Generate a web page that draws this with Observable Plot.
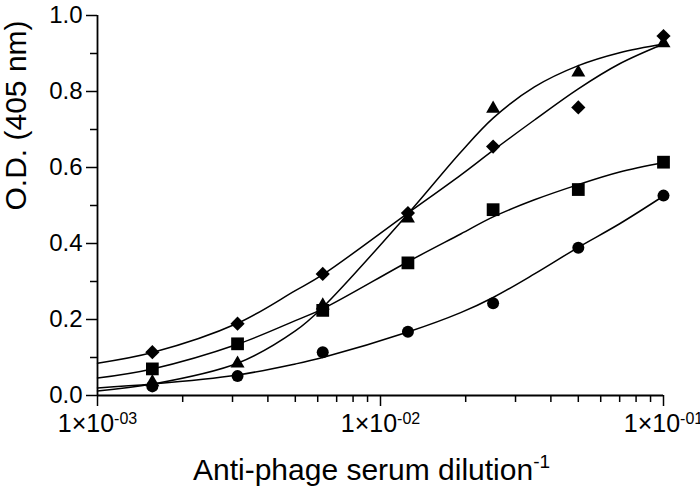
<!DOCTYPE html>
<html>
<head>
<meta charset="utf-8">
<script src="https://cdn.jsdelivr.net/npm/d3@7"></script>
<script src="https://cdn.jsdelivr.net/npm/@observablehq/plot@0.6"></script>
<style>
  html, body { margin: 0; padding: 0; background: #fff; }
  #chart svg { display: block; }
</style>
</head>
<body>
<div id="chart"></div>
<script>
// ---- data ----
const dilution = [1/640, 1/320, 1/160, 1/80, 1/40, 1/20, 1/10];
const diamondOD  = [0.114, 0.189, 0.320, 0.480, 0.655, 0.758, 0.946];
const triangleOD = [0.035, 0.084, 0.237, 0.466, 0.755, 0.850, 0.927];
const squareOD   = [0.070, 0.136, 0.224, 0.349, 0.489, 0.542, 0.614];
const circleOD   = [0.024, 0.051, 0.114, 0.168, 0.243, 0.389, 0.526];

// fitted curves
const curveX        = [0.001, 0.0015625, 0.003125, 0.005, 0.00625, 0.0125, 0.0192, 0.025, 0.035, 0.05, 0.07, 0.1];
const diamondFit    = [0.085, 0.113, 0.190, 0.276, 0.318, 0.480, 0.580, 0.645, 0.725, 0.807, 0.873, 0.925];
const triangleFit   = [0.012, 0.030, 0.085, 0.170, 0.232, 0.478, 0.640, 0.730, 0.812, 0.868, 0.902, 0.925];
const squareFit     = [0.046, 0.070, 0.135, 0.197, 0.228, 0.352, 0.425, 0.470, 0.515, 0.555, 0.588, 0.613];
const circleFit     = [0.020, 0.030, 0.054, 0.083, 0.100, 0.167, 0.218, 0.258, 0.320, 0.390, 0.452, 0.525];

// axis ticks and labels
const xMajorTicks = [0.001, 0.01, 0.1];
const xTickExponents = ["-03", "-02", "-01"];
const xMinorTicks = [0.002,0.003,0.004,0.005,0.006,0.007,0.008,0.009,0.02,0.03,0.04,0.05,0.06,0.07,0.08,0.09];
const yMajorTicks = [0, 0.2, 0.4, 0.6, 0.8, 1.0];
const yMinorTicks = [0.1, 0.3, 0.5, 0.7, 0.9];
const xTitle = "Anti-phage serum dilution";
const xTitleSup = "-1";
const yTitle = "O.D. (405 nm)";

// ---- build tables ----
const pts = (ys) => dilution.map((x, i) => ({x, y: ys[i]}));
const fit = (ys) => curveX.map((x, i) => ({x, y: ys[i]}));
const series = [
  {sym: "diamond2", r: 6.4, p: pts(diamondOD),  f: fit(diamondFit)},
  {sym: "triangle", r: 5.2, p: pts(triangleOD), f: fit(triangleFit)},
  {sym: "square",   r: 7.2, p: pts(squareOD),   f: fit(squareFit)},
  {sym: "circle",   r: 6.0, p: pts(circleOD),   f: fit(circleFit)}
];

const supFormat = (d) => {
  const i = xMajorTicks.findIndex(t => Math.abs(Math.log10(t) - Math.log10(d)) < 1e-6);
  return i >= 0 ? `1×10^${xTickExponents[i]}` : "";
};

const chart = Plot.plot({
  width: 700,
  height: 488,
  marginLeft: 97,
  marginRight: 37,
  marginTop: 15,
  marginBottom: 93,
  style: {fontFamily: "'Liberation Sans', Arial, sans-serif", color: "black", background: "white"},
  x: {type: "log", domain: [0.001, 0.1]},
  y: {domain: [0, 1]},
  marks: [
    Plot.axisY({ticks: yMajorTicks, tickSize: 11, tickPadding: 4, fontSize: 24, strokeWidth: 1.5, tickFormat: d3.format(".1f"), label: null}),
    Plot.axisY({ticks: yMinorTicks, tickSize: 7, strokeWidth: 1.5, tickFormat: () => "", label: null}),
    Plot.axisX({ticks: xMajorTicks, tickSize: 11, tickPadding: 8, fontSize: 25, strokeWidth: 1.5, tickFormat: supFormat, label: null}),
    Plot.axisX({ticks: xMinorTicks, tickSize: 7, strokeWidth: 1.5, tickFormat: () => "", label: null}),
    Plot.ruleX([0.001], {stroke: "black", strokeWidth: 1.8}),
    Plot.ruleY([0], {stroke: "black", strokeWidth: 1.8}),
    ...series.map(s => Plot.line(s.f, {x: "x", y: "y", curve: "catmull-rom", stroke: "black", strokeWidth: 1.5})),
    ...series.map(s => Plot.dot(s.p, {x: "x", y: "y", symbol: s.sym, r: s.r, fill: "black", stroke: "none"})),
    Plot.text([yTitle], {frameAnchor: "left", dx: -81, dy: 5, rotate: -90, fontSize: 30, lineAnchor: "middle", fill: "black"}),
    Plot.text([xTitle], {frameAnchor: "bottom", dx: -9, dy: 75, fontSize: 30, lineAnchor: "middle", fill: "black"})
  ]
});

document.getElementById("chart").appendChild(chart);

// superscripts
d3.select(chart).selectAll("text").each(function() {
  const t = this.textContent;
  if (t.includes("^")) {
    const [base, sup] = t.split("^");
    const sel = d3.select(this);
    sel.text(base);
    sel.append("tspan").attr("dy", -8).attr("font-size", 16).text(sup);
  } else if (t === xTitle) {
    d3.select(this).append("tspan").attr("dy", -12).attr("font-size", 19).text(xTitleSup);
  }
});
</script>
</body>
</html>
